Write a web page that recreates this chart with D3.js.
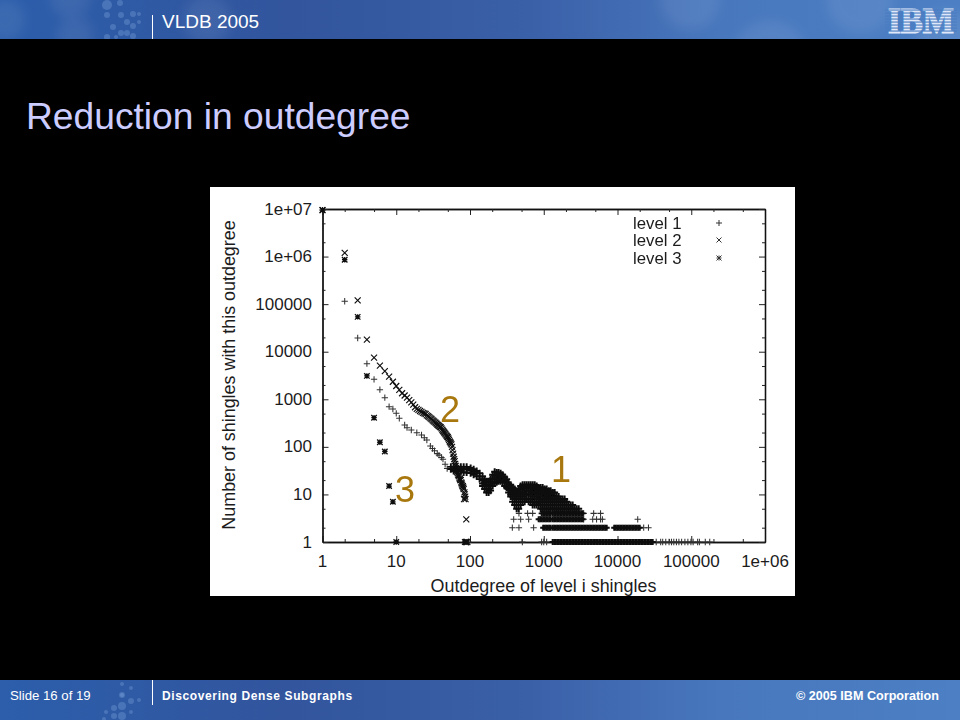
<!DOCTYPE html>
<html><head><meta charset="utf-8">
<script src="https://cdn.jsdelivr.net/npm/d3@7/dist/d3.min.js"></script>
<style>html,body{margin:0;padding:0;background:#000}svg{display:block}</style>
</head><body><div id="c"></div>
<script>
// ---------- chart data ----------
const titleText = "Reduction in outdegree";
const xTickValues = [1,10,100,1000,10000,100000,1000000];
const xTickLabels = ["1","10","100","1000","10000","100000","1e+06"];
const yTickValues = [1,10,100,1000,10000,100000,1000000,10000000];
const yTickLabels = ["1","10","100","1000","10000","100000","1e+06","1e+07"];
const minorMultipliers = [2,5];
const seriesNames = ["level 1","level 2","level 3"];

const level3 = [[1,9.5e6],[2,860000],[3,54000],[4,3100],[5,410],[6,125],[7,80],[8,15],[9,7],[10,1],[85,1],[89,1]];

const level2 = [[1,9.5e6],[2,1200000],[3,120000],[4,18000],[5,7500],[6,5100],[7,3900],[8,2990],[9,2340],[10,1900],[11,1570],[12,1340],[13,1200],[14,1080],[15,960],[16,865],[17,770],[18,680],[19,630],[20,600],[21,568],[22,545],[23,520],[24,505],[25,490],[26,460],[27,440],[28,420],[29,400],[30,385],[31,365],[32,350],[33,335],[34,322],[35,310],[36,295],[37,285],[38,275],[39,265],[40,258],[41,245],[42,230],[43,218],[44,208],[45,198],[46,190],[47,180],[48,172],[49,165],[50,159],[51,150],[52,140],[53,130],[54,125],[55,118],[56,113],[57,100],[58,85],[59,72],[60,62],[61,55],[62,50],[63,44],[64,40],[65,36],[66,32],[67,30],[68,28],[69,26],[70,25],[71,24],[72,22],[73,21],[74,20],[75,20],[76,18],[77,17],[78,16],[79,15],[80,15],[81,14],[82,13],[83,8],[84,11],[85,10],[86,9],[87,8],[89,3],[88,1],[92,1]];

const level1Tail = [[1,9.5e6],[2,115000],[3,19400],[4,5600],[5,2630],[6,1590],[7,1080],[8,700],[9,625],[10,507],[11,400],[13,288],[14,253],[16,226],[19,198],[22,178],[24,155],[26,139],[29,104],[31,92],[33,83],[36,72],[38,67],[41,60],[43,55],[46,43],[49,35]];

// outdegree -> counts seen in that column of the level 1 cloud
const level1Cloud = [
[55,38,34],[60,38,34,31],[66,38,34,31],[75,38,34,31],[82,38,34,29],[90,38,34,29],[102,36,32,28],[112,34,30,26],[123,31,28,24],[135,28,24,21],[148,24,20,17,15],[158,21,18,15,13],[168,19,16,13,11],[179,19,16,13,11],[190,21,18,15,12],[203,26,22,18,15],[216,30,25,21,17],[230,29,25,21,18],[244,29,25,21,19],[260,28,24,21,19],[277,26,23,20,18],[295,23,20,18,15],[314,21,18,15,14],[334,17,15,13,11],[356,16,14,12,10,9],[378,14,13,11,9,7],[403,13,11,10,8,6],[429,12,10,9,7,5],[457,13,11,9,7,5],[486,15,13,10,8,6],[517,16,14,11,9,7],[551,16,14,12,10,8,7],[586,16,14,12,10,8],[624,16,14,12,10,7],[664,16,14,12,10,8,7],[707,16,14,11,9,7,6],[753,16,13,11,9,7,6],[801,15,13,11,9,7,6],[853,14,12,10,8,7,6],[908,14,12,10,8,7,6,5],[966,14,12,10,8,7,6,5],[1028,13,11,9,8,7,6,5],[1095,13,11,9,8,7,6,5],[1165,12,10,9,8,7,6,5],[1240,12,10,9,8,7,6,5],[1320,11,9,8,7,6,5],[1405,11,9,8,7,6,5],[1495,9,8,7,6,5],[1592,9,8,7,6,5],[1695,8,7,6,5],[1804,8,7,6,5],[1920,8,7,6,5],[2044,7,6,5],[2176,6,5],[2316,6,5],[2466,6,5],[2625,5],[2794,5],[2974,5]];

// outdegrees at which the flat low-count rows of level 1 are filled
const denseOutdegree = [853,894,937,982,1029,1078,1130,1184,1241,1320,1383,1450,1520,1593,1669,1749,1833,1921,2013,2110,2211,2317,2428,2545,2667,2795,2929,3070,3217,3371,3533,3703,3880,4067,4262,4467,4681,4906,5141,5388,5646,5917,6201,6499,6811,7138,7480,7839,8216,8610,9023,9456,9910,10386,10884,11406,11954,12528,13129,13759,14420,15112,15837,16597,17394,18229,19104,20021,20982,21989,23045,24151,25310,26525,27798,29133,30000];
const rowCounts = [1,2,3,4];
const rowSpans = [[[1320,30000]],[[960,7370],[8880,20650]],[[853,3390]],[[908,3390]]];
const rowStray = [
 [95,513,936,1000,1095,33500,38500,41000,45100,50000,54000,58000,63000,68000,74000,82000,90000,99000,106000,122000,129000,155000,178000],
 [375,461,729,22650,26300],
 [391,486,624,3480,4610,5200,5890,6240,18800],
 [461,604,707,3480,4750,5890]];

// ---------- layout ----------
const W=960,H=720;
const svg=d3.select("#c").append("svg").attr("width",W).attr("height",H).attr("viewBox",`0 0 ${W} ${H}`);
const defs=svg.append("defs");
const barGrad=defs.append("linearGradient").attr("id","bar");
[[0,"#2c5eab"],[0.3,"#32559d"],[0.55,"#3a60a8"],[0.75,"#4877bd"],[1,"#4c7fc4"]].forEach(s=>barGrad.append("stop").attr("offset",s[0]).attr("stop-color",s[1]));
defs.append("filter").attr("id","soft").attr("x","-30%").attr("y","-30%").attr("width","160%").attr("height","160%").append("feGaussianBlur").attr("stdDeviation",6);
defs.append("filter").attr("id","jpg").attr("x","-5%").attr("y","-5%").attr("width","110%").attr("height","110%").append("feGaussianBlur").attr("stdDeviation",0.35);
defs.append("clipPath").attr("id","hclip").append("rect").attr("width",W).attr("height",39);
defs.append("clipPath").attr("id","fclip").append("rect").attr("y",680).attr("width",W).attr("height",40);

svg.append("rect").attr("width",W).attr("height",H).attr("fill","#000");
const head=svg.append("g").attr("clip-path","url(#hclip)");
head.append("rect").attr("width",W).attr("height",39).attr("fill","url(#bar)");
const foot=svg.append("g").attr("clip-path","url(#fclip)");
foot.append("rect").attr("y",680).attr("width",W).attr("height",40).attr("fill","url(#bar)");

// decorative glows
[[5,20,20],[75,35,18],[70,-2,20],[207,20,24],[690,0,30],[770,58,38],[860,0,34],[945,40,30]].forEach(c=>head.append("circle").attr("cx",c[0]).attr("cy",c[1]).attr("r",c[2]).attr("fill","#fff").attr("opacity",0.07).attr("filter","url(#soft)"));
const dotsHead=[[107,5,5],[120,3,3],[107,15,3],[121,15,3],[113,27,3],[121,33,3],[127,22,3],[133,26,3],[133,14,3],[139,22,2],[127,33,3],[116,37,2],[107,37,3],[133,36,3],[139,14,2]];
dotsHead.forEach(d=>head.append("circle").attr("cx",d[0]).attr("cy",d[1]).attr("r",d[2]).attr("fill","#7da6dc").attr("opacity",.35));
const dotsFoot=[[122,684,2],[131,688,2],[122,695,2],[131,701,3],[139,700,2],[122,706,4],[114,708,3],[131,712,2],[122,716,4],[114,716,3],[106,712,2],[104,719,2],[122,695,3]];
dotsFoot.forEach(d=>foot.append("circle").attr("cx",d[0]).attr("cy",d[1]).attr("r",d[2]).attr("fill","#7da6dc").attr("opacity",.35));

const sans="'Liberation Sans',Arial,sans-serif";
const label=(x,y,t,s,c,extra={})=>{const e=svg.append("text").attr("x",x).attr("y",y).text(t).attr("font-family",sans).attr("font-size",s).attr("fill",c);Object.entries(extra).forEach(([k,v])=>e.attr(k,v));return e;};

svg.append("line").attr("x1",152.5).attr("x2",152.5).attr("y1",15).attr("y2",39).attr("stroke","#fff").attr("stroke-width",1);
svg.append("line").attr("x1",152.5).attr("x2",152.5).attr("y1",680).attr("y2",705).attr("stroke","#fff").attr("stroke-width",1);
label(162,28,"VLDB 2005",19,"#fff");
label(26,129,titleText,37.2,"#ccccff");
label(10,700,"Slide 16 of 19",13.2,"#fff");
label(162,700,"Discovering Dense Subgraphs",12,"#fff",{"font-weight":"bold","letter-spacing":"0.62"});
label(939,700,"\u00a9 2005 IBM Corporation",12.6,"#fff",{"text-anchor":"end","font-weight":"bold"});

// IBM logo, striped
label(921,33,"IBM",36,"#dfe7f8",{"text-anchor":"middle","font-family":"'Liberation Serif',serif","font-weight":"bold",textLength:66,lengthAdjust:"spacingAndGlyphs",stroke:"#dfe7f8","stroke-width":1.2});
[9.5,12.5,15.5,18.5,21.5,24.5,27.5,30.5].forEach(y=>svg.append("rect").attr("x",885).attr("y",y).attr("width",72).attr("height",1.1).attr("fill","#4a7cc1"));

// ---------- chart ----------
svg.append("rect").attr("x",210).attr("y",187).attr("width",585).attr("height",409).attr("fill","#fff");
const x=d3.scaleLog().domain([1,1000000]).range([322.5,765]);
const y=d3.scaleLog().domain([1,10000000]).range([542,209]);

const minors=ticks=>ticks.slice(0,-1).flatMap(t=>minorMultipliers.map(m=>t*m));
const plot=svg.append("g");
const style=(g)=>{g.selectAll(".domain").attr("stroke","#111").attr("stroke-width",1.3);g.selectAll("line").attr("stroke","#222").attr("stroke-width",1);g.selectAll("text").remove();};
plot.append("g").attr("transform","translate(0,542)").call(d3.axisBottom(x).tickValues(xTickValues).tickSize(-6).tickSizeOuter(0)).call(style);
plot.append("g").attr("transform","translate(0,542)").call(d3.axisBottom(x).tickValues(minors(xTickValues)).tickSize(-3).tickSizeOuter(0)).call(style);
plot.append("g").attr("transform","translate(0,209)").call(d3.axisTop(x).tickValues(xTickValues).tickSize(-6).tickSizeOuter(0)).call(style);
plot.append("g").attr("transform","translate(0,209)").call(d3.axisTop(x).tickValues(minors(xTickValues)).tickSize(-3).tickSizeOuter(0)).call(style);
plot.append("g").attr("transform","translate(322.5,0)").call(d3.axisLeft(y).tickValues(yTickValues).tickSize(-6).tickSizeOuter(0)).call(style);
plot.append("g").attr("transform","translate(322.5,0)").call(d3.axisLeft(y).tickValues(minors(yTickValues)).tickSize(-3).tickSizeOuter(0)).call(style);
plot.append("g").attr("transform","translate(765,0)").call(d3.axisRight(y).tickValues(yTickValues).tickSize(-6).tickSizeOuter(0)).call(style);
plot.append("g").attr("transform","translate(765,0)").call(d3.axisRight(y).tickValues(minors(yTickValues)).tickSize(-3).tickSizeOuter(0)).call(style);

const ink="#1c1c1c";
svg.append("g").selectAll("text").data(xTickValues).join("text").attr("x",d=>x(d)).attr("y",567).attr("text-anchor","middle").attr("font-family",sans).attr("font-size",17).attr("fill",ink).text((d,i)=>xTickLabels[i]);
svg.append("g").selectAll("text").data(yTickValues).join("text").attr("x",312).attr("y",d=>y(d)+5.5).attr("text-anchor","end").attr("font-family",sans).attr("font-size",17).attr("fill",ink).text((d,i)=>yTickLabels[i]);
label(543.5,592,"Outdegree of level i shingles",17.9,ink,{"text-anchor":"middle"});
svg.append("text").attr("transform","translate(235,375) rotate(-90)").attr("text-anchor","middle").attr("font-family",sans).attr("font-size",17.9).attr("fill",ink).text("Number of shingles with this outdegree");

// marker shapes
const plus={draw(c,s){const r=Math.sqrt(s);c.moveTo(-r,0);c.lineTo(r,0);c.moveTo(0,-r);c.lineTo(0,r);}};
const cross={draw(c,s){const r=Math.sqrt(s);c.moveTo(-r,-r);c.lineTo(r,r);c.moveTo(-r,r);c.lineTo(r,-r);}};
const star={draw(c,s){plus.draw(c,s);cross.draw(c,s);}};
const sym=(t,s)=>d3.symbol().type(t).size(s)();

const cloudPoints=[];
level1Cloud.forEach(([o,...cs])=>cs.forEach(n=>cloudPoints.push([o,n])));
const rowPoints=[], strayPoints=[];
rowCounts.forEach((n,i)=>{
  denseOutdegree.filter(o=>rowSpans[i].some(s=>o>=s[0]&&o<=s[1])).forEach(o=>rowPoints.push([o,n]));
  rowStray[i].forEach(o=>strayPoints.push([o,n]));
});

const marks=svg.append("g").attr("filter","url(#jpg)");
const draw=(pts,t,s,sw,col)=>marks.append("g").selectAll("path").data(pts).join("path")
  .attr("d",sym(t,s)).attr("transform",d=>`translate(${x(d[0])},${y(d[1])})`).attr("fill","none").attr("stroke",col).attr("stroke-width",sw);
draw(level1Tail,plus,10,1.05,"#333");
draw(strayPoints,plus,10,1.05,"#333");
draw(cloudPoints,plus,12.25,1.9,"#0a0a0a");
draw(rowPoints,plus,9,1.9,"#0a0a0a");
draw(level2,cross,9,1.15,"#111");
draw(level3,star,7.5,1.3,"#111");

// legend
const legY=[223,240,258];
seriesNames.forEach((n,i)=>label(633,legY[i]+5.5,n,16.8,ink));
const legMark=[[plus,9],[cross,6.25],[star,6.25]];
legMark.forEach((m,i)=>marks.append("path").attr("d",sym(m[0],m[1])).attr("transform",`translate(719,${legY[i]})`).attr("fill","none").attr("stroke","#333").attr("stroke-width",1));

// big curve labels
[["2",450,422],["1",561,482],["3",405,502]].forEach(l=>label(l[1],l[2],l[0],36,"#a8780f",{"text-anchor":"middle"}));
</script></body></html>
